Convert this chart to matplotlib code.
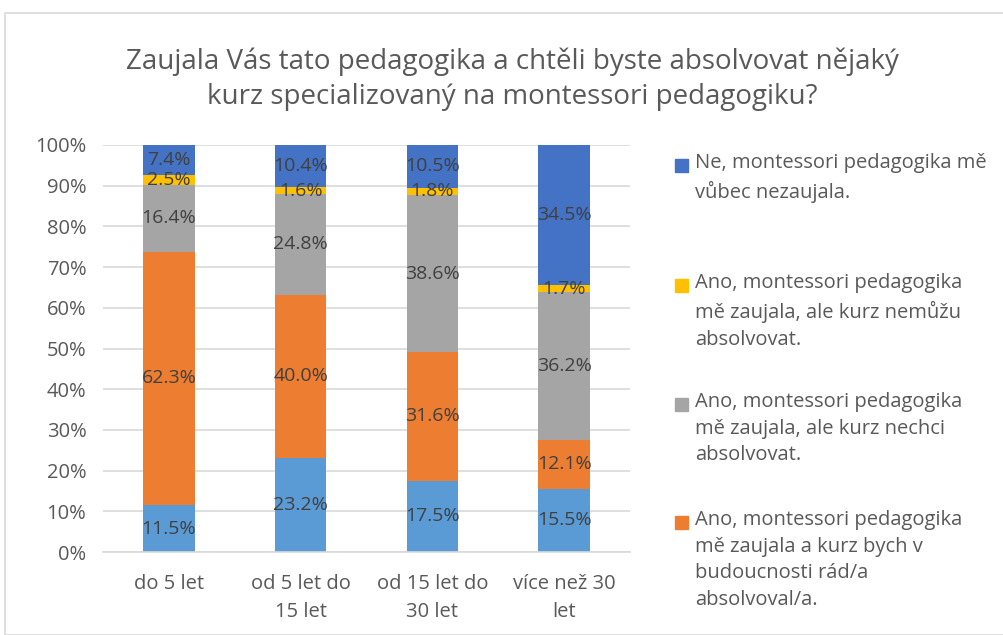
import matplotlib

matplotlib.use("Agg")
import matplotlib.pyplot as plt
import numpy as np
from matplotlib.patches import Rectangle

plt.rcParams["font.family"] = ["Open Sans", "DejaVu Sans"]

categories = ["do 5 let", "od 5 let do\n15 let", "od 15 let do\n30 let", "více než 30\nlet"]

# stacked bottom -> top
light_blue = [11.5, 23.2, 17.5, 15.5]
orange = [62.3, 40.0, 31.6, 12.1]
gray = [16.4, 24.8, 38.6, 36.2]
yellow = [2.5, 1.6, 1.8, 1.7]
dark_blue = [7.4, 10.4, 10.5, 34.5]

series = [
    ("", light_blue, "#5B9BD5"),
    ("Ano, montessori pedagogika\nmě zaujala a kurz bych v\nbudoucnosti rád/a\nabsolvoval/a.", orange, "#ED7D31"),
    ("Ano, montessori pedagogika\nmě zaujala, ale kurz nechci\nabsolvovat.", gray, "#A5A5A5"),
    ("Ano, montessori pedagogika\nmě zaujala, ale kurz nemůžu\nabsolvovat.", yellow, "#FFC000"),
    ("Ne, montessori pedagogika mě\nvůbec nezaujala.", dark_blue, "#4472C4"),
]

title = "Zaujala Vás tato pedagogika a chtěli byste absolvovat nějaký\nkurz specializovaný na montessori pedagogiku?"

text_col = "#595959"
label_col = "#404040"

fig = plt.figure(figsize=(10.04, 6.35), dpi=100)
fig.patches.append(Rectangle((5 / 1004, 0), 1.0, 1 - 13 / 635, transform=fig.transFigure,
                             fill=False, edgecolor="#D9D9D9", linewidth=1.2))
ax = fig.add_axes([103 / 1004, 1 - 552 / 635, 527 / 1004, 407 / 635])

x = np.arange(len(categories))
bottom = np.zeros(len(categories))
for name, vals, col in series:
    vals = np.array(vals)
    bars = ax.bar(x, vals, 0.39, bottom=bottom, color=col, zorder=2)
    ax.bar_label(bars, labels=[f"{v:.1f}%" for v in vals], label_type="center",
                 color=label_col, fontsize=14)
    bottom += vals

ax.set_xlim(-0.5, len(categories) - 0.5)
ax.set_ylim(0, 100)
ax.set_yticks(np.arange(0, 101, 10))
ax.set_yticklabels([f"{v}%" for v in range(0, 101, 10)])
ax.set_xticks(x)
ax.set_xticklabels(categories, linespacing=1.55)
ax.tick_params(axis="both", length=0, labelsize=14.5, labelcolor=text_col)
ax.tick_params(axis="x", pad=16)
ax.tick_params(axis="y", pad=12)
ax.grid(axis="y", color="#D9D9D9", linewidth=1.2, zorder=0)
for s in ["top", "right", "left"]:
    ax.spines[s].set_visible(False)
ax.spines["bottom"].set_color("#D9D9D9")
ax.spines["bottom"].set_linewidth(1.2)

fig.text(512 / 1004, 1 - 79 / 635, title, ha="center", va="center", fontsize=20,
         color=text_col, linespacing=1.35, family=["Liberation Sans Narrow", "Open Sans", "DejaVu Sans"])

# legend (top entry first)
legend_y = [153, 273, 392, 510]
for (name, vals, col), ly in zip(series[:0:-1], legend_y):
    fig.patches.append(Rectangle((675 / 1004, 1 - (ly + 19) / 635), 13 / 1004, 13 / 635,
                                 transform=fig.transFigure, color=col))
    fig.text(695 / 1004, 1 - ly / 635, name, ha="left", va="top", fontsize=14.5,
             color=text_col, linespacing=1.45)

fig.savefig("out.png", dpi=100)
